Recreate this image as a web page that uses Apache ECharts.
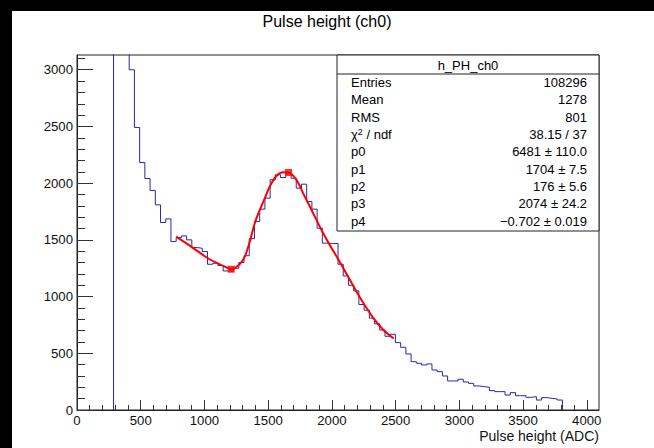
<!DOCTYPE html>
<html>
<head>
<meta charset="utf-8">
<title>Pulse height (ch0)</title>
<script src="https://cdn.jsdelivr.net/npm/echarts@6/dist/echarts.min.js"></script>
<style>
  html, body { margin: 0; padding: 0; background: #ffffff; }
  #chart { width: 654px; height: 448px; }
</style>
</head>
<body>
<div id="chart"></div>
<script>
// Histogram h_PH_ch0: 100 bins over 0..4096 ADC, counts per bin
const xMin = 0;
const xMax = 4096;
const nBins = 100;
const binCounts = [
  0, 0, 0, 0, 0, 0, 0, 10500, 7000, 4600,
  3000, 2491, 2182, 2041, 1935, 1809, 1653, 1685, 1485, 1521,
  1535, 1500, 1432, 1426, 1397, 1285, 1294, 1274, 1226, 1226,
  1250, 1300, 1360, 1510, 1662, 1771, 1868, 2030, 2074, 2050,
  2085, 2044, 1956, 1991, 1838, 1771, 1603, 1471, 1468, 1468,
  1285, 1182, 1100, 1050, 930, 880, 810, 760, 705, 650,
  668, 594, 553, 494, 426, 412, 397, 406, 353, 338,
  300, 256, 256, 271, 247, 235, 212, 206, 200, 171,
  162, 162, 132, 153, 126, 126, 112, 118, 88, 109,
  103, 97, 88, 0, 0, 0, 0, 0, 0, 0
];

// Fit curve samples (ADC, counts)
const fitX = [778, 896, 1027, 1158, 1213, 1278, 1317, 1356, 1395, 1435, 1474, 1513, 1566, 1617, 1660,
              1722, 1774, 1827, 1879, 1931, 1983, 2036, 2090, 2140, 2219, 2323, 2401, 2485];
const fitY = [1529, 1441, 1338, 1265, 1241, 1288, 1353, 1485, 1647, 1765, 1868, 1971, 2065, 2097, 2094,
              2029, 1912, 1794, 1676, 1560, 1455, 1355, 1250, 1150, 995, 815, 710, 630];

// Valley and peak markers
const markerX = [1210, 1660];
const markerY = [1241, 2094];

// Axis ranges and ticks
const yMin = 0;
const yMax = 3130;
const xMajorTicks = [0, 500, 1000, 1500, 2000, 2500, 3000, 3500, 4000];
const xMinorTicks = [];
for (let v = 100; v < 4096; v += 100) if (v % 500 !== 0) xMinorTicks.push(v);
const yMajorTicks = [0, 500, 1000, 1500, 2000, 2500, 3000];
const yMinorTicks = [];
for (let v = 100; v < 3130; v += 100) if (v % 500 !== 0) yMinorTicks.push(v);

// Statistics box contents
const statsTitle = 'h_PH_ch0';
const statLabels = ['Entries', 'Mean', 'RMS', '{n|χ}{sup|2}{n| / ndf}', 'p0', 'p1', 'p2', 'p3', 'p4'];
const statValues = ['108296', '1278', '801', '38.15 / 37', '6481 ± 110.0', '1704 ± 7.5',
                    '176 ± 5.6', '2074 ± 24.2', '−0.702 ± 0.019'];

const chartTitle = 'Pulse height (ch0)';
const xTitle = 'Pulse height (ADC)';

// Step outline: rises from zero at the first filled bin, falls back after the last one
const binWidth = (xMax - xMin) / nBins;
let firstBin = binCounts.findIndex(c => c > 0);
let lastBin = nBins - 1;
while (lastBin > 0 && binCounts[lastBin] === 0) lastBin--;
const histLine = [[xMin + firstBin * binWidth, 0]];
for (let i = firstBin; i <= lastBin; i++) histLine.push([xMin + i * binWidth, binCounts[i]]);
histLine.push([xMin + (lastBin + 1) * binWidth, 0]);

const fitData = fitX.map((x, i) => [x, fitY[i]]);
const markerData = markerX.map((x, i) => [x, markerY[i]]);

const FONT = '"Liberation Sans", Arial, Helvetica, sans-serif';
const TICK_FS = 13.2;
const STAT_FS = 13;
const grid = { left: 77, top: 55, right: 55, bottom: 38 };

const chart = echarts.init(document.getElementById('chart'), null, { renderer: 'svg' });

// Statistics box graphics
const boxLeft = 337, boxRight = 599, boxTop = 55, boxBottom = 231, headerBottom = 74;
const statGraphics = [
  { type: 'rect', shape: { x: boxLeft, y: boxTop, width: boxRight - boxLeft, height: boxBottom - boxTop },
    style: { fill: '#ffffff', stroke: '#222', lineWidth: 1 }, z: 10 },
  { type: 'line', shape: { x1: boxLeft, y1: headerBottom, x2: boxRight, y2: headerBottom },
    style: { stroke: '#222', lineWidth: 1 }, z: 11 },
  { type: 'text', x: (boxLeft + boxRight) / 2, y: (boxTop + headerBottom) / 2 + 0.5, z: 11,
    style: { text: statsTitle, font: STAT_FS + 'px ' + FONT, fill: '#000', align: 'center', verticalAlign: 'middle' } }
];
statLabels.forEach((lab, i) => {
  const y = 82.6 + i * 17.3;
  statGraphics.push({
    type: 'text', x: 351, y: y, z: 11,
    style: {
      text: lab, font: STAT_FS + 'px ' + FONT, fill: '#000', align: 'left', verticalAlign: 'middle',
      rich: {
        n: { fontSize: STAT_FS, fontFamily: FONT, fill: '#000' },
        sup: { fontSize: 9, fontFamily: FONT, fill: '#000', verticalAlign: 'top', padding: [0, 0, 6, 0] }
      }
    }
  });
  statGraphics.push({
    type: 'text', x: 587, y: y, z: 11,
    style: { text: statValues[i], font: STAT_FS + 'px ' + FONT, fill: '#000', align: 'right', verticalAlign: 'middle' }
  });
});

const plainNumber = v => String(v);

const option = {
  backgroundColor: '#ffffff',
  animation: false,
  grid: Object.assign({ show: true, borderColor: '#222', borderWidth: 1, backgroundColor: '#ffffff' }, grid),
  xAxis: [
    {
      type: 'value', min: xMin, max: xMax, position: 'bottom', z: 6,
      axisLine: { show: true, lineStyle: { color: '#222', width: 1 } },
      axisTick: { show: true, inside: true, length: 10, customValues: xMajorTicks, lineStyle: { color: '#333' } },
      axisLabel: { show: true, customValues: xMajorTicks, margin: 4, color: '#111',
                   fontFamily: FONT, fontSize: TICK_FS, formatter: plainNumber },
      splitLine: { show: false }
    },
    {
      type: 'value', min: xMin, max: xMax, position: 'bottom', z: 6,
      axisLine: { show: false },
      axisTick: { show: true, inside: true, length: 5, customValues: xMinorTicks, lineStyle: { color: '#333' } },
      axisLabel: { show: false },
      splitLine: { show: false }
    }
  ],
  yAxis: [
    {
      type: 'value', min: yMin, max: yMax, position: 'left', z: 6,
      axisLine: { show: true, lineStyle: { color: '#222', width: 1 } },
      axisTick: { show: true, inside: true, length: 16, customValues: yMajorTicks, lineStyle: { color: '#333' } },
      axisLabel: { show: true, customValues: yMajorTicks, margin: 4, color: '#111',
                   fontFamily: FONT, fontSize: TICK_FS, formatter: plainNumber },
      splitLine: { show: false }
    },
    {
      type: 'value', min: yMin, max: yMax, position: 'left', z: 6,
      axisLine: { show: false },
      axisTick: { show: true, inside: true, length: 8, customValues: yMinorTicks, lineStyle: { color: '#333' } },
      axisLabel: { show: false },
      splitLine: { show: false }
    }
  ],
  series: [
    {
      name: 'h_PH_ch0', type: 'line', xAxisIndex: 0, yAxisIndex: 0,
      data: histLine, step: 'end', symbol: 'none', clip: true,
      lineStyle: { color: '#2828aa', width: 1 }, z: 3
    },
    {
      name: 'fit', type: 'line', xAxisIndex: 0, yAxisIndex: 0,
      data: fitData, smooth: 0.35, symbol: 'none',
      lineStyle: { color: '#ff0000', width: 2 }, z: 4
    },
    {
      name: 'markers', type: 'scatter', xAxisIndex: 0, yAxisIndex: 0,
      data: markerData, symbol: 'rect', symbolSize: 7,
      itemStyle: { color: '#ff0000' }, z: 5
    }
  ],
  graphic: [
    { type: 'text', x: 327, y: 21, z: 20,
      style: { text: chartTitle, font: '16px ' + FONT, fill: '#000', align: 'center', verticalAlign: 'middle' } },
    { type: 'text', x: 599, y: 436, z: 20,
      style: { text: xTitle, font: '14px ' + FONT, fill: '#111', align: 'right', verticalAlign: 'middle' } },
    { type: 'rect', shape: { x: 0, y: 0, width: 12, height: 448 }, style: { fill: '#000' }, z: 30 },
    { type: 'rect', shape: { x: 0, y: 0, width: 654, height: 11 }, style: { fill: '#000' }, z: 30 }
  ].concat(statGraphics)
};

chart.setOption(option);
</script>
</body>
</html>
